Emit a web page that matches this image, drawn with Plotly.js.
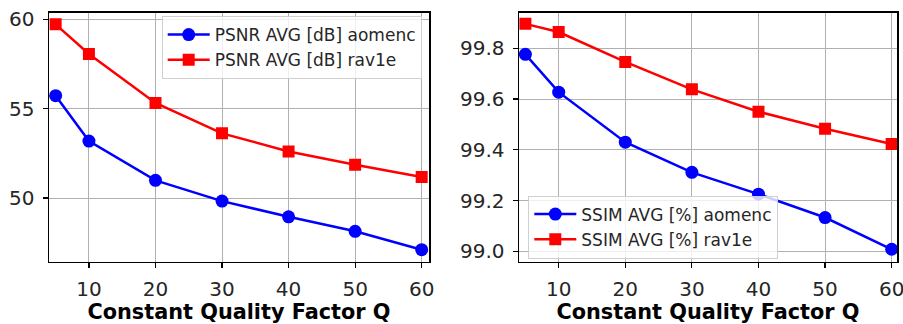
<!DOCTYPE html>
<html>
<head>
<meta charset="utf-8">
<script src="https://cdn.plot.ly/plotly-3.0.1.min.js"></script>
<style>html,body{margin:0;padding:0;background:#fff;}#chart{width:903px;height:324px;}</style>
</head>
<body>
<div id="chart"></div>
<script>
const qValues = [5, 10, 20, 30, 40, 50, 60];
const psnrAomenc = [55.73, 53.19, 50.99, 49.83, 48.95, 48.14, 47.11];
const psnrRav1e = [59.72, 58.06, 55.32, 53.62, 52.61, 51.86, 51.18];
const ssimAomenc = [99.776, 99.627, 99.43, 99.311, 99.225, 99.133, 99.008];
const ssimRav1e = [99.896, 99.864, 99.746, 99.638, 99.55, 99.483, 99.423];
const xTicks = [10, 20, 30, 40, 50, 60];
const psnrTicks = [50, 55, 60];
const ssimTicks = [99.0, 99.2, 99.4, 99.6, 99.8];
const ssimTickText = ['99.0', '99.2', '99.4', '99.6', '99.8'];
const xTitle = 'Constant Quality Factor Q';

const FONT = 'DejaVu Sans, sans-serif';
const blue = '#0000ff', red = '#ff0000';

const traces = [
  {x: qValues, y: psnrAomenc, name: 'PSNR AVG [dB] aomenc', mode: 'lines+markers', xaxis: 'x', yaxis: 'y', legend: 'legend',
   line: {color: blue, width: 2.5}, marker: {symbol: 'circle', size: 13, color: blue}},
  {x: qValues, y: psnrRav1e, name: 'PSNR AVG [dB] rav1e', mode: 'lines+markers', xaxis: 'x', yaxis: 'y', legend: 'legend',
   line: {color: red, width: 2.5}, marker: {symbol: 'square', size: 12, color: red}},
  {x: qValues, y: ssimAomenc, name: 'SSIM AVG [%] aomenc', mode: 'lines+markers', xaxis: 'x2', yaxis: 'y2', legend: 'legend2',
   line: {color: blue, width: 2.5}, marker: {symbol: 'circle', size: 13, color: blue}},
  {x: qValues, y: ssimRav1e, name: 'SSIM AVG [%] rav1e', mode: 'lines+markers', xaxis: 'x2', yaxis: 'y2', legend: 'legend2',
   line: {color: red, width: 2.5}, marker: {symbol: 'square', size: 12, color: red}}
];

const axBase = {
  showline: true, mirror: true, linecolor: '#000', linewidth: 1.5,
  showgrid: true, gridcolor: '#b0b0b0', gridwidth: 1,
  ticks: 'outside', ticklen: 5, tickwidth: 1.2, tickcolor: '#000',
  zeroline: false, tickfont: {family: FONT, size: 20, color: '#262626'},
  ticklabeloverflow: 'allow'
};
const legBase = {
  font: {family: FONT, size: 17, color: '#262626'},
  bgcolor: 'rgba(255,255,255,0.8)', bordercolor: '#d0d0d0', borderwidth: 1,
  xanchor: 'left', yanchor: 'top', tracegroupgap: 0, itemwidth: 42
};

const layout = {
  width: 903, height: 324,
  margin: {l: 0, r: 0, t: 0, b: 0},
  paper_bgcolor: '#fff', plot_bgcolor: '#fff',
  showlegend: true,
  xaxis: Object.assign({}, axBase, {domain: [49/903, 429/903], range: [4, 61.1], tickvals: xTicks, anchor: 'y', ticklabelstandoff: 4,
    title: {text: '<b>' + xTitle + '</b>', font: {family: FONT, size: 20.8, color: '#000'}, standoff: 17}}),
  yaxis: Object.assign({}, axBase, {domain: [1-261.7/324, 1-12.7/324], range: [46.44, 60.37], tickvals: psnrTicks, anchor: 'x', ticklabelstandoff: 4}),
  xaxis2: Object.assign({}, axBase, {domain: [519/903, 897/903], range: [4.04, 60.8], tickvals: xTicks, anchor: 'y2', ticklabelstandoff: 4,
    title: {text: '<b>' + xTitle + '</b>', font: {family: FONT, size: 20.8, color: '#000'}, standoff: 17}}),
  yaxis2: Object.assign({}, axBase, {domain: [1-261.7/324, 1-12.7/324], range: [98.959, 99.94], tickvals: ssimTicks, ticktext: ssimTickText, anchor: 'x2', ticklabelstandoff: 4}),
  legend: Object.assign({}, legBase, {x: 161.7/903, y: 1-16/324}),
  legend2: Object.assign({}, legBase, {x: 528.3/903, y: 1-195.5/324})
};

Plotly.newPlot('chart', traces, layout, {displayModeBar: false, staticPlot: true});
</script>
</body>
</html>
